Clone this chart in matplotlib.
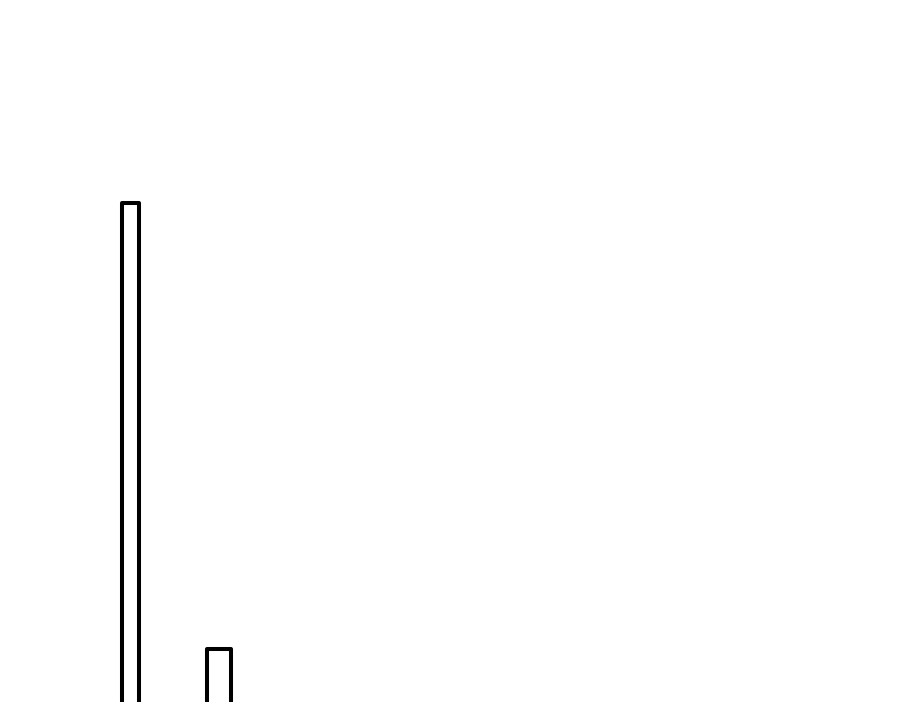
import matplotlib
matplotlib.use("Agg")
import matplotlib.pyplot as plt

categories = ["A", "B"]
values = [44, 10]
bar_widths = [0.19, 0.27]

fig = plt.figure(figsize=(9, 7.02), dpi=100)
ax = fig.add_axes([0, 0, 1, 1])
x = list(range(len(categories)))
ax.bar(x, values, width=bar_widths, color="white", edgecolor="black",
       linewidth=2.9, joinstyle="round")
ax.set_xlim(-1.475, 8.69)
ax.set_ylim(5.95, 59.5)
ax.axis("off")
fig.savefig("out.png", dpi=100, facecolor="white")
